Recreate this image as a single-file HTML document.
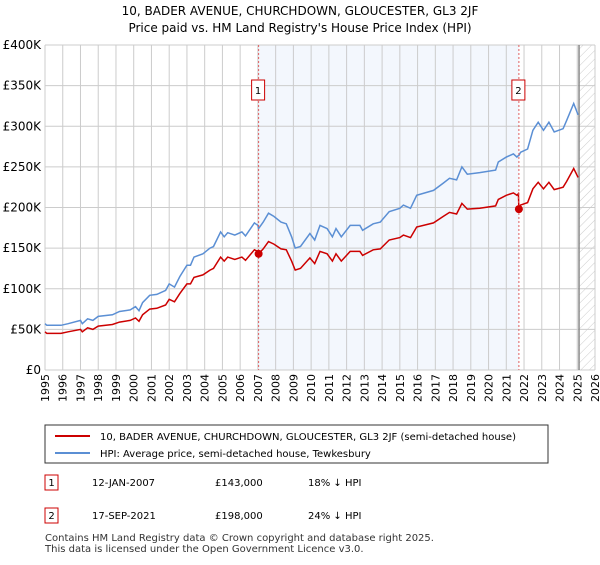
<!DOCTYPE html>
<html><head><meta charset="utf-8"><style>
body{margin:0;background:#fff;font-family:"Liberation Sans","DejaVu Sans",sans-serif;}
svg text{font-family:"DejaVu Sans","Liberation Sans",sans-serif;}
</style></head><body>
<svg id="c" width="600" height="560" xmlns="http://www.w3.org/2000/svg">
<defs><pattern id="hatch" width="6" height="6" patternUnits="userSpaceOnUse" patternTransform="rotate(45)"><line x1="0" y1="0" x2="0" y2="6" stroke="#ccc" stroke-width="1"/></pattern></defs>
<text x="300" y="15" text-anchor="middle" font-size="12">10, BADER AVENUE, CHURCHDOWN, GLOUCESTER, GL3 2JF</text>
<text x="300" y="32" text-anchor="middle" font-size="12">Price paid vs. HM Land Registry's House Price Index (HPI)</text>
<g id="plot"></g>
<g>
<rect x="45" y="425" width="503" height="38" fill="#fff" stroke="#333"/>
<line x1="55" y1="436" x2="90" y2="436" stroke="#cc0000" stroke-width="2"/>
<text x="100" y="440" font-size="10">10, BADER AVENUE, CHURCHDOWN, GLOUCESTER, GL3 2JF (semi-detached house)</text>
<line x1="55" y1="453" x2="90" y2="453" stroke="#5b8fd4" stroke-width="2"/>
<text x="100" y="457" font-size="10">HPI: Average price, semi-detached house, Tewkesbury</text>
</g>
<g font-size="10">
<rect x="45" y="475" width="13" height="15" fill="#fff" stroke="#cc0000"/><text x="51.5" y="486" text-anchor="middle">1</text>
<text x="92" y="486">12-JAN-2007</text><text x="215" y="486">£143,000</text><text x="308" y="486">18% ↓ HPI</text>
<rect x="45" y="508" width="13" height="15" fill="#fff" stroke="#cc0000"/><text x="51.5" y="519" text-anchor="middle">2</text>
<text x="92" y="519">17-SEP-2021</text><text x="215" y="519">£198,000</text><text x="308" y="519">24% ↓ HPI</text>
</g>
<text x="45" y="541" font-size="10" fill="#333">Contains HM Land Registry data © Crown copyright and database right 2025.</text>
<text x="45" y="552" font-size="10" fill="#333">This data is licensed under the Open Government Licence v3.0.</text>
</svg>
<script>
const hpiYears=[1995,1995.1,1995.9,1996.3,1997,1997.1,1997.4,1997.7,1998,1998.8,1999.2,1999.8,2000.1,2000.3,2000.5,2000.9,2001.3,2001.8,2002,2002.3,2002.6,2003,2003.2,2003.4,2003.9,2004.3,2004.5,2004.9,2005.1,2005.3,2005.7,2006.1,2006.3,2006.8,2007.0,2007.04,2007.3,2007.6,2007.9,2008.3,2008.6,2008.9,2009.1,2009.4,2009.93,2010.2,2010.5,2010.9,2011.2,2011.4,2011.7,2012.2,2012.75,2012.9,2013.5,2013.9,2014.4,2015.0,2015.2,2015.6,2015.95,2016.9,2017.45,2017.8,2018.2,2018.5,2018.8,2019.5,2020.4,2020.55,2021.0,2021.4,2021.6,2021.68,2021.71,2021.8,2022.2,2022.5,2022.8,2023.1,2023.4,2023.7,2024.2,2024.4,2024.8,2025.05];
const hpiValues=[57,55,55,57,61,57,63,61,66,68,72,74,78,73,83,92,93,98,106,102,115,129,129,139,143,150,152,170,164,169,166,170,165,181,178,174,182,193,189,182,180,164,150,152,168,160,178,174,164,174,164,178,178,172,180,182,195,199,203,199,215,221,230,236,234,250,241,243,246,256,262,266,262,264,264,268,272,295,305,295,305,293,297,307,328,314];
const priceValues=[47,45,45,47,50,47,52,50,54,56,59,61,64,60,68,75,76,80,87,84,94,106,106,114,117,123,125,139,134,139,136,139,135,148,146,143,149,158,155,149,148,134,123,125,138,131,146,143,134,143,134,146,146,141,148,149,160,163,166,163,176,181,189,194,192,205,198,199,202,210,215,218,215,217,198,203,206,223,231,223,231,222,225,232,248,237];
const sales=[{label:"1",year:2007.04,value:143},{label:"2",year:2021.71,value:198}];
const yTicks=[0,50,100,150,200,250,300,350,400];
const yTickLabels=["£0","£50K","£100K","£150K","£200K","£250K","£300K","£350K","£400K"];
const xTicks=[1995,1996,1997,1998,1999,2000,2001,2002,2003,2004,2005,2006,2007,2008,2009,2010,2011,2012,2013,2014,2015,2016,2017,2018,2019,2020,2021,2022,2023,2024,2025,2026];
const L=45,R=595,T=45,B=370,X0=1995,X1=2026,Ymax=400;
const xs=y=>L+(y-X0)/(X1-X0)*(R-L);
const ys=v=>B-v/Ymax*(B-T);
const NS="http://www.w3.org/2000/svg";
const g=document.getElementById('plot');
function mk(t,a,p){const e=document.createElementNS(NS,t);for(const k in a)e.setAttribute(k,a[k]);(p||g).appendChild(e);return e;}
let e;
e=mk('rect',{x:xs(sales[0].year),y:T,width:xs(sales[1].year)-xs(sales[0].year),height:B-T,fill:'#eef3fc',opacity:0.7});


e=mk('rect',{x:xs(2025.1),y:T,width:R-xs(2025.1),height:B-T,fill:'url(#hatch)'});


yTicks.forEach((v,i)=>{
 e=mk('line',{x1:L,x2:R,y1:ys(v),y2:ys(v),stroke:'#ccc'});
 
 
 e=mk('text',{x:L-4,y:ys(v)+4,'text-anchor':'end','font-size':12});
 e.textContent=yTickLabels[i];
 
 
});
xTicks.forEach(y=>{
 e=mk('line',{x1:xs(y),x2:xs(y),y1:T,y2:B,stroke:'#ccc'});
 
 
 const tx=xs(y)+4, ty=B+4;
 e=mk('text',{x:tx,y:ty,'text-anchor':'end','font-size':11,transform:'rotate(-90 '+tx+' '+ty+')'});
 e.textContent=y;
 
 
});
e=mk('line',{x1:xs(2025.1),x2:xs(2025.1),y1:T,y2:B,stroke:'#888','stroke-width':1.5});


function path(vals){return hpiYears.map((y,i)=>(i?'L':'M')+xs(y).toFixed(1)+','+ys(vals[i]).toFixed(1)).join('');}
e=mk('path',{d:path(hpiValues),fill:'none',stroke:'#5b8fd4','stroke-width':1.5});


e=mk('path',{d:path(priceValues),fill:'none',stroke:'#cc0000','stroke-width':1.5});


sales.forEach(s=>{
 e=mk('line',{x1:xs(s.year),x2:xs(s.year),y1:T,y2:B,stroke:'#e06060','stroke-dasharray':'2,2'});
 
 
 e=mk('circle',{cx:xs(s.year),cy:ys(s.value),r:4,fill:'#cc0000'});
 
 
 e=mk('rect',{x:xs(s.year)-7,y:80,width:13,height:20,fill:'#fff',stroke:'#cc0000'});
 
 
 e=mk('text',{x:xs(s.year)-0.5,y:94,'text-anchor':'middle','font-size':10});
 e.textContent=s.label;
 
 
});
</script>
</body></html>
